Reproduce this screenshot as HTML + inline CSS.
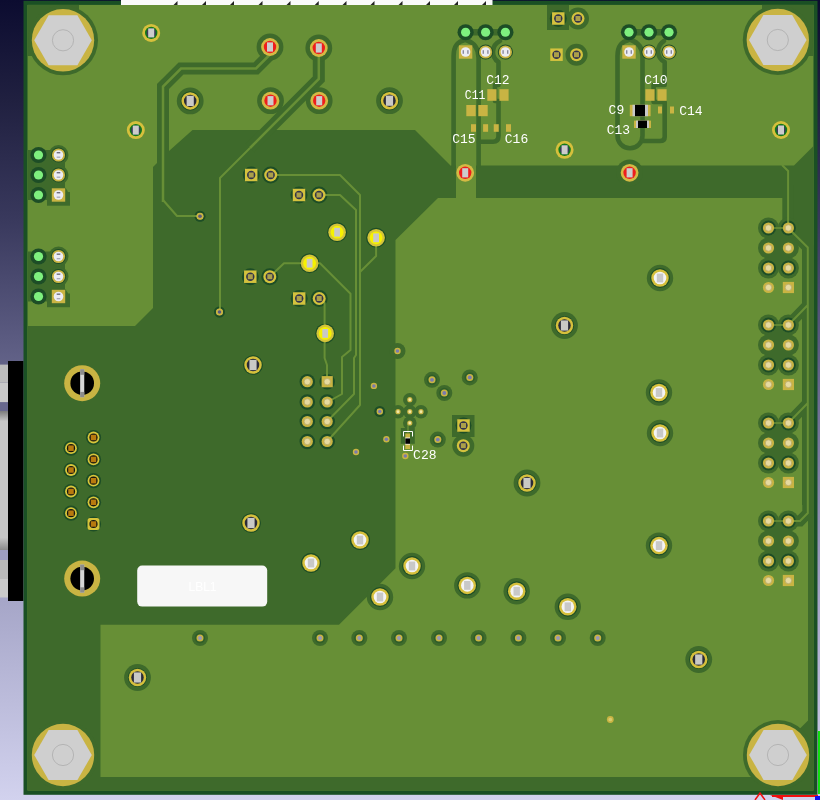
<!DOCTYPE html><html><head><meta charset="utf-8"><style>html,body{margin:0;padding:0;background:#000;}svg{display:block;font-family:"Liberation Sans",sans-serif;will-change:transform;}</style></head><body><svg width="820" height="800" viewBox="0 0 820 800"><defs><linearGradient id="bg" x1="0" y1="0" x2="0" y2="1"><stop offset="0" stop-color="#0c0c30"/><stop offset="0.125" stop-color="#202040"/><stop offset="0.27" stop-color="#38385c"/><stop offset="0.42" stop-color="#5a5a80"/><stop offset="0.75" stop-color="#a6a6c8"/><stop offset="1" stop-color="#d2d2ee"/></linearGradient></defs><rect x="0" y="0" width="820" height="800" fill="url(#bg)"/><defs><linearGradient id="g1" x1="0" y1="0" x2="0" y2="1"><stop offset="0" stop-color="#7c7c7c"/><stop offset="1" stop-color="#c4c4c4"/></linearGradient><linearGradient id="g2" x1="0" y1="0" x2="0" y2="1"><stop offset="0" stop-color="#c4c4c4"/><stop offset="1" stop-color="#8a8a8a"/></linearGradient></defs><rect x="0" y="364.6" width="8" height="18" fill="#bcbcbc"/><rect x="0" y="382.6" width="8" height="19.7" fill="#c9c9c9"/><rect x="0" y="402.3" width="8" height="8.7" fill="#68688e"/><rect x="0" y="411" width="8" height="10" fill="url(#g1)"/><rect x="0" y="421" width="8" height="117" fill="#c6c6c6"/><rect x="0" y="538" width="8" height="12" fill="url(#g2)"/><rect x="0" y="550" width="8" height="10" fill="#9e9ec0"/><rect x="0" y="560" width="8" height="19" fill="#bababa"/><rect x="0" y="579" width="8" height="18.5" fill="#cacaca"/><rect x="8" y="361" width="15.5" height="240" fill="#000"/><rect x="23.5" y="0.8" width="794" height="794" fill="#1a5024"/><rect x="27.5" y="4.9" width="786" height="785.6" fill="#678f36"/><polygon fill="#3e6a2b" points="192.5,130 415,130 450,165 450,165.6 794,165.6 813.5,146 813.5,790.5 27.5,790.5 27.5,326 135,326 153,308 153,167 169,151"/><polygon fill="#678f36" points="476,198 782.5,198 782.5,240 802,240 802,505 808,505 808,720.6 790,738.6 760,777 100.5,777 100.5,624.7 339,624.7 395.5,568.2 395.5,240 438,198 456,198 456,150 476,150"/><rect x="27.5" y="4.9" width="51.5" height="51.1" fill="#3e6a2b"/><path d="M788.1,185 L788.1,228 L807.8,247.5 L807.8,513 L800,521 L788.4,521 M807.8,305 L788.4,325 M807.8,403 L788.4,423" fill="none" stroke="#3e6a2b" stroke-width="11"/><path d="M272.5,52 L256,68.5 L181,68.5 L163,86.5 L163,220" fill="none" stroke="#3e6a2b" stroke-width="12"/><path d="M318.8,48 L318.8,79 L250,148" fill="none" stroke="#3e6a2b" stroke-width="12" stroke-linejoin="miter"/><path d="M465,40 Q453.6,42 453.6,56 L453.6,166" fill="none" stroke="#3e6a2b" stroke-width="4.6" stroke-linecap="round" stroke-linejoin="round"/><path d="M466,40 Q478.6,44 478.6,58 L478.6,166" fill="none" stroke="#3e6a2b" stroke-width="4.6" stroke-linecap="round" stroke-linejoin="round"/><path d="M500,41 A12,12 0 0 0 498.5,62 L498.5,85 L495,85 L495,101 L498.5,101 L498.5,136 Q498.5,141.7 493,141.7 L478.6,141.7" fill="none" stroke="#3e6a2b" stroke-width="4.6" stroke-linecap="round" stroke-linejoin="round"/><path d="M629,40 Q617.5,42 617.5,56 L617.5,135.7 A12.5,12.5 0 0 0 642.5,135.7 L642.5,56 Q642.5,44 631,40" fill="none" stroke="#3e6a2b" stroke-width="4.6" stroke-linecap="round" stroke-linejoin="round"/><path d="M664,41 A12,12 0 0 0 664.7,62 L664.7,85 L653.6,85 L653.6,102 L664.7,102 L664.7,137 Q664.7,141 660,141 L642.5,141" fill="none" stroke="#3e6a2b" stroke-width="4.6" stroke-linecap="round" stroke-linejoin="round"/><circle cx="190.2" cy="100.9" r="13.4" fill="#3e6a2b"/><circle cx="190.2" cy="100.9" r="9.6" fill="#1d4d26"/><circle cx="389.5" cy="100.7" r="13.4" fill="#3e6a2b"/><circle cx="389.5" cy="100.7" r="9.6" fill="#1d4d26"/><circle cx="564.5" cy="325.5" r="13.4" fill="#3e6a2b"/><circle cx="564.5" cy="325.5" r="9.6" fill="#1d4d26"/><circle cx="527" cy="483" r="13.4" fill="#3e6a2b"/><circle cx="527" cy="483" r="9.6" fill="#1d4d26"/><circle cx="698.75" cy="659.5" r="13.4" fill="#3e6a2b"/><circle cx="698.75" cy="659.5" r="9.6" fill="#1d4d26"/><circle cx="137.5" cy="677.5" r="13.4" fill="#3e6a2b"/><circle cx="137.5" cy="677.5" r="9.6" fill="#1d4d26"/><circle cx="253" cy="365" r="9.8" fill="#1d4d26"/><circle cx="253" cy="365" r="9.6" fill="#1d4d26"/><circle cx="251" cy="523" r="9.8" fill="#1d4d26"/><circle cx="251" cy="523" r="9.6" fill="#1d4d26"/><circle cx="270" cy="47" r="13.4" fill="#3e6a2b"/><circle cx="318.8" cy="48" r="13.4" fill="#3e6a2b"/><circle cx="270.5" cy="100.7" r="13.4" fill="#3e6a2b"/><circle cx="319.2" cy="100.7" r="13.4" fill="#3e6a2b"/><circle cx="629.6" cy="172.8" r="13.4" fill="#3e6a2b"/><circle cx="660" cy="278" r="13.2" fill="#3e6a2b"/><circle cx="660" cy="278" r="9.9" fill="#1d4d26"/><circle cx="659" cy="392.5" r="13.2" fill="#3e6a2b"/><circle cx="659" cy="392.5" r="9.9" fill="#1d4d26"/><circle cx="660" cy="433" r="13.2" fill="#3e6a2b"/><circle cx="660" cy="433" r="9.9" fill="#1d4d26"/><circle cx="659" cy="545.6" r="13.2" fill="#3e6a2b"/><circle cx="659" cy="545.6" r="9.9" fill="#1d4d26"/><circle cx="412" cy="566" r="13.2" fill="#3e6a2b"/><circle cx="412" cy="566" r="9.9" fill="#1d4d26"/><circle cx="467.3" cy="585.4" r="13.2" fill="#3e6a2b"/><circle cx="467.3" cy="585.4" r="9.9" fill="#1d4d26"/><circle cx="516.7" cy="591.2" r="13.2" fill="#3e6a2b"/><circle cx="516.7" cy="591.2" r="9.9" fill="#1d4d26"/><circle cx="567.8" cy="606.8" r="13.2" fill="#3e6a2b"/><circle cx="567.8" cy="606.8" r="9.9" fill="#1d4d26"/><circle cx="380" cy="597" r="13.2" fill="#3e6a2b"/><circle cx="380" cy="597" r="9.9" fill="#1d4d26"/><circle cx="311" cy="563" r="10" fill="#1d4d26"/><circle cx="311" cy="563" r="9.9" fill="#1d4d26"/><circle cx="360" cy="540" r="10" fill="#1d4d26"/><circle cx="360" cy="540" r="9.9" fill="#1d4d26"/><circle cx="337.1" cy="232.2" r="10" fill="#1d4d26"/><circle cx="376.1" cy="237.8" r="10" fill="#1d4d26"/><circle cx="309.6" cy="263.2" r="10" fill="#1d4d26"/><circle cx="325.2" cy="333.4" r="10" fill="#1d4d26"/><circle cx="200" cy="638" r="8" fill="#3e6a2b"/><circle cx="200" cy="638" r="5.2" fill="#2f5e28"/><circle cx="320" cy="638" r="8" fill="#3e6a2b"/><circle cx="320" cy="638" r="5.2" fill="#2f5e28"/><circle cx="359.3" cy="638" r="8" fill="#3e6a2b"/><circle cx="359.3" cy="638" r="5.2" fill="#2f5e28"/><circle cx="399" cy="638" r="8" fill="#3e6a2b"/><circle cx="399" cy="638" r="5.2" fill="#2f5e28"/><circle cx="439" cy="638" r="8" fill="#3e6a2b"/><circle cx="439" cy="638" r="5.2" fill="#2f5e28"/><circle cx="478.6" cy="638" r="8" fill="#3e6a2b"/><circle cx="478.6" cy="638" r="5.2" fill="#2f5e28"/><circle cx="518.4" cy="638" r="8" fill="#3e6a2b"/><circle cx="518.4" cy="638" r="5.2" fill="#2f5e28"/><circle cx="558" cy="638" r="8" fill="#3e6a2b"/><circle cx="558" cy="638" r="5.2" fill="#2f5e28"/><circle cx="597.7" cy="638" r="8" fill="#3e6a2b"/><circle cx="597.7" cy="638" r="5.2" fill="#2f5e28"/><circle cx="200" cy="216.3" r="5.5" fill="#3e6a2b"/><circle cx="200" cy="216.3" r="5.2" fill="#2f5e28"/><circle cx="200" cy="216.3" r="5.5" fill="#1d4d26"/><circle cx="219.5" cy="312" r="5.5" fill="#3e6a2b"/><circle cx="219.5" cy="312" r="5.2" fill="#2f5e28"/><circle cx="219.5" cy="312" r="5.5" fill="#1d4d26"/><circle cx="379.8" cy="411.5" r="5.5" fill="#1d4d26"/><circle cx="397.5" cy="351" r="8" fill="#3e6a2b"/><circle cx="409.8" cy="399.7" r="6.8" fill="#3e6a2b"/><circle cx="398" cy="411.7" r="6.8" fill="#3e6a2b"/><circle cx="409.8" cy="411.7" r="6.8" fill="#3e6a2b"/><circle cx="421" cy="411.7" r="6.8" fill="#3e6a2b"/><circle cx="409.8" cy="423" r="6.8" fill="#3e6a2b"/><circle cx="432" cy="379.8" r="8" fill="#3e6a2b"/><circle cx="432" cy="379.8" r="5.2" fill="#2f5e28"/><circle cx="444.3" cy="393" r="8" fill="#3e6a2b"/><circle cx="444.3" cy="393" r="5.2" fill="#2f5e28"/><circle cx="469.8" cy="377.4" r="8" fill="#3e6a2b"/><circle cx="469.8" cy="377.4" r="5.2" fill="#2f5e28"/><circle cx="437.8" cy="439.6" r="8" fill="#3e6a2b"/><circle cx="437.8" cy="439.6" r="5.2" fill="#2f5e28"/><circle cx="251.2" cy="175" r="8.5" fill="#1d4d26"/><circle cx="270.7" cy="175" r="8.5" fill="#1d4d26"/><circle cx="299" cy="195" r="8.5" fill="#1d4d26"/><circle cx="319" cy="195" r="8.5" fill="#1d4d26"/><circle cx="250.3" cy="276.7" r="8.5" fill="#1d4d26"/><circle cx="269.8" cy="276.7" r="8.5" fill="#1d4d26"/><circle cx="299.2" cy="298.5" r="8.5" fill="#1d4d26"/><circle cx="319.2" cy="298.5" r="8.5" fill="#1d4d26"/><rect x="547" y="4.9" width="22" height="25.1" fill="#3e6a2b"/><circle cx="578" cy="18.5" r="11" fill="#3e6a2b"/><circle cx="558.3" cy="18.5" r="8.5" fill="#1d4d26"/><circle cx="576.5" cy="54.7" r="11" fill="#3e6a2b"/><rect x="452" y="415" width="22.5" height="22" fill="#3e6a2b"/><circle cx="463.3" cy="445.7" r="11" fill="#3e6a2b"/><circle cx="463.5" cy="425.5" r="8" fill="#1d4d26"/><circle cx="307.3" cy="381.7" r="7.8" fill="#1d4d26"/><circle cx="327.2" cy="381.7" r="7.8" fill="#1d4d26"/><circle cx="307.3" cy="402" r="7.8" fill="#1d4d26"/><circle cx="327.2" cy="402" r="7.8" fill="#1d4d26"/><circle cx="307.3" cy="421.5" r="7.8" fill="#1d4d26"/><circle cx="327.2" cy="421.5" r="7.8" fill="#1d4d26"/><circle cx="307.3" cy="441.5" r="7.8" fill="#1d4d26"/><circle cx="327.2" cy="441.5" r="7.8" fill="#1d4d26"/><circle cx="768.5" cy="228" r="10.5" fill="#3e6a2b"/><circle cx="788.4" cy="228" r="10.5" fill="#3e6a2b"/><circle cx="768.5" cy="248" r="10.5" fill="#3e6a2b"/><circle cx="788.4" cy="248" r="10.5" fill="#3e6a2b"/><circle cx="768.5" cy="268" r="10.5" fill="#3e6a2b"/><circle cx="788.4" cy="268" r="10.5" fill="#3e6a2b"/><rect x="768.5" y="228" width="20" height="40" fill="#3e6a2b"/><circle cx="768.5" cy="325" r="10.5" fill="#3e6a2b"/><circle cx="788.4" cy="325" r="10.5" fill="#3e6a2b"/><circle cx="768.5" cy="345" r="10.5" fill="#3e6a2b"/><circle cx="788.4" cy="345" r="10.5" fill="#3e6a2b"/><circle cx="768.5" cy="365" r="10.5" fill="#3e6a2b"/><circle cx="788.4" cy="365" r="10.5" fill="#3e6a2b"/><rect x="768.5" y="325" width="20" height="40" fill="#3e6a2b"/><circle cx="768.5" cy="423" r="10.5" fill="#3e6a2b"/><circle cx="788.4" cy="423" r="10.5" fill="#3e6a2b"/><circle cx="768.5" cy="443" r="10.5" fill="#3e6a2b"/><circle cx="788.4" cy="443" r="10.5" fill="#3e6a2b"/><circle cx="768.5" cy="463" r="10.5" fill="#3e6a2b"/><circle cx="788.4" cy="463" r="10.5" fill="#3e6a2b"/><rect x="768.5" y="423" width="20" height="40" fill="#3e6a2b"/><circle cx="768.5" cy="521" r="10.5" fill="#3e6a2b"/><circle cx="788.4" cy="521" r="10.5" fill="#3e6a2b"/><circle cx="768.5" cy="541" r="10.5" fill="#3e6a2b"/><circle cx="788.4" cy="541" r="10.5" fill="#3e6a2b"/><circle cx="768.5" cy="561" r="10.5" fill="#3e6a2b"/><circle cx="788.4" cy="561" r="10.5" fill="#3e6a2b"/><rect x="768.5" y="521" width="20" height="40" fill="#3e6a2b"/><circle cx="768.5" cy="228" r="7.5" fill="#1d4d26"/><circle cx="788.4" cy="228" r="7.5" fill="#1d4d26"/><circle cx="768.5" cy="268" r="7.5" fill="#1d4d26"/><circle cx="788.4" cy="268" r="7.5" fill="#1d4d26"/><circle cx="768.5" cy="325" r="7.5" fill="#1d4d26"/><circle cx="788.4" cy="325" r="7.5" fill="#1d4d26"/><circle cx="768.5" cy="365" r="7.5" fill="#1d4d26"/><circle cx="788.4" cy="365" r="7.5" fill="#1d4d26"/><circle cx="768.5" cy="423" r="7.5" fill="#1d4d26"/><circle cx="788.4" cy="423" r="7.5" fill="#1d4d26"/><circle cx="768.5" cy="463" r="7.5" fill="#1d4d26"/><circle cx="788.4" cy="463" r="7.5" fill="#1d4d26"/><circle cx="768.5" cy="521" r="7.5" fill="#1d4d26"/><circle cx="788.4" cy="521" r="7.5" fill="#1d4d26"/><circle cx="768.5" cy="561" r="7.5" fill="#1d4d26"/><circle cx="788.4" cy="561" r="7.5" fill="#1d4d26"/><circle cx="71" cy="448.2" r="7.6" fill="#1d4d26"/><circle cx="71" cy="470" r="7.6" fill="#1d4d26"/><circle cx="71" cy="491.5" r="7.6" fill="#1d4d26"/><circle cx="71" cy="513.2" r="7.6" fill="#1d4d26"/><circle cx="93.5" cy="437.5" r="7.6" fill="#1d4d26"/><circle cx="93.5" cy="459.4" r="7.6" fill="#1d4d26"/><circle cx="93.5" cy="480.7" r="7.6" fill="#1d4d26"/><circle cx="93.5" cy="502.3" r="7.6" fill="#1d4d26"/><circle cx="93.5" cy="524" r="7.6" fill="#1d4d26"/><rect x="28" y="150" width="37" height="50" fill="#3e6a2b"/><circle cx="58.5" cy="155" r="10" fill="#3e6a2b"/><circle cx="58.5" cy="175" r="10" fill="#3e6a2b"/><circle cx="58.5" cy="195" r="10" fill="#3e6a2b"/><rect x="47" y="192" width="23" height="13.7" fill="#3e6a2b"/><circle cx="38.5" cy="155" r="8.1" fill="#1d4d26"/><circle cx="58.5" cy="155" r="7.6" fill="#1d4d26"/><circle cx="38.5" cy="175" r="8.1" fill="#1d4d26"/><circle cx="58.5" cy="175" r="7.6" fill="#1d4d26"/><circle cx="38.5" cy="195" r="8.1" fill="#1d4d26"/><rect x="28" y="251.5" width="37" height="50.0" fill="#3e6a2b"/><circle cx="58.5" cy="256.5" r="10" fill="#3e6a2b"/><circle cx="58.5" cy="276.5" r="10" fill="#3e6a2b"/><circle cx="58.5" cy="296.5" r="10" fill="#3e6a2b"/><rect x="47" y="293.5" width="23" height="13.7" fill="#3e6a2b"/><circle cx="38.5" cy="256.5" r="8.1" fill="#1d4d26"/><circle cx="58.5" cy="256.5" r="7.6" fill="#1d4d26"/><circle cx="38.5" cy="276.5" r="8.1" fill="#1d4d26"/><circle cx="58.5" cy="276.5" r="7.6" fill="#1d4d26"/><circle cx="38.5" cy="296.5" r="8.1" fill="#1d4d26"/><rect x="465.6" y="29" width="39.799999999999955" height="6.5" fill="#3e6a2b"/><circle cx="465.6" cy="32.25" r="8.1" fill="#1d4d26"/><circle cx="485.6" cy="32.25" r="8.1" fill="#1d4d26"/><circle cx="505.4" cy="32.25" r="8.1" fill="#1d4d26"/><circle cx="485.6" cy="52" r="7.6" fill="#1d4d26"/><circle cx="505.4" cy="52" r="7.6" fill="#1d4d26"/><rect x="629" y="29" width="40" height="6.5" fill="#3e6a2b"/><circle cx="629" cy="32.25" r="8.1" fill="#1d4d26"/><circle cx="649" cy="32.25" r="8.1" fill="#1d4d26"/><circle cx="669" cy="32.25" r="8.1" fill="#1d4d26"/><circle cx="649" cy="52" r="7.6" fill="#1d4d26"/><circle cx="669" cy="52" r="7.6" fill="#1d4d26"/><rect x="762" y="4.9" width="51.5" height="51.1" fill="#3e6a2b"/><circle cx="63" cy="40.3" r="35" fill="#3e6a2b"/><circle cx="777.8" cy="40" r="35" fill="#3e6a2b"/><circle cx="63" cy="755" r="35" fill="#3e6a2b"/><circle cx="778" cy="755" r="35" fill="#3e6a2b"/><rect x="400.8" y="428" width="14" height="15.8" fill="#3e6a2b"/><path d="M782,165 L788.1,171 L788.1,228 L807.8,247.5 L807.8,513 L800,521 L788.4,521 M807.8,305 L788.4,325 M807.8,403 L788.4,423" fill="none" stroke="#678f36" stroke-width="2"/><path d="M272.5,52 L256,68.5 L181,68.5 L163,86.5 L163,202" fill="none" stroke="#678f36" stroke-width="2.5"/><path d="M318.8,48 L318.8,79 L250,148" fill="none" stroke="#678f36" stroke-width="2.5"/><path d="M163,200 L177,216 L200,216" fill="none" stroke="#678f36" stroke-width="2.0" stroke-linejoin="round"/><path d="M250,148 L220,178 L220,311" fill="none" stroke="#678f36" stroke-width="2.0" stroke-linejoin="round"/><path d="M270.7,175 L340,175 L360,195 L360,405 L327,441.5" fill="none" stroke="#678f36" stroke-width="2.0" stroke-linejoin="round"/><path d="M319,195 L340,195 L356,210 L356,355 L354,358 L354,394 L327,421.5" fill="none" stroke="#678f36" stroke-width="2.0" stroke-linejoin="round"/><path d="M376.1,237.8 L376.1,256 L360,272" fill="none" stroke="#678f36" stroke-width="2.0" stroke-linejoin="round"/><path d="M269.8,276.7 L284,263.2 L320,263.2 L350.5,293.7 L350.5,350 L342,357 L342,394 L327.6,402" fill="none" stroke="#678f36" stroke-width="2.0" stroke-linejoin="round"/><path d="M319.2,298.5 L324.6,303 L324.6,358 L327,365 L327,382" fill="none" stroke="#678f36" stroke-width="2.0" stroke-linejoin="round"/><path d="M768.5,228 L788.4,228" stroke="#678f36" stroke-width="1.6"/><path d="M768.5,325 L788.4,325" stroke="#678f36" stroke-width="1.6"/><path d="M768.5,423 L788.4,423" stroke="#678f36" stroke-width="1.6"/><path d="M768.5,521 L788.4,521" stroke="#678f36" stroke-width="1.6"/><path d="M408,433 L408,424" fill="none" stroke="#678f36" stroke-width="1.4" stroke-linejoin="round"/><circle cx="190.2" cy="100.9" r="8.75" fill="#d6c03c"/><circle cx="190.2" cy="100.9" r="6.25" fill="#2a2a38"/><rect x="186.6" y="95.80000000000001" width="7.2" height="10.2" fill="#c9c9c6"/><circle cx="389.5" cy="100.7" r="8.75" fill="#d6c03c"/><circle cx="389.5" cy="100.7" r="6.25" fill="#2a2a38"/><rect x="385.9" y="95.60000000000001" width="7.2" height="10.2" fill="#c9c9c6"/><circle cx="564.5" cy="325.5" r="8.75" fill="#d6c03c"/><circle cx="564.5" cy="325.5" r="6.25" fill="#2a2a38"/><rect x="560.9" y="320.4" width="7.2" height="10.2" fill="#c9c9c6"/><circle cx="527" cy="483" r="8.75" fill="#d6c03c"/><circle cx="527" cy="483" r="6.25" fill="#2a2a38"/><rect x="523.4" y="477.9" width="7.2" height="10.2" fill="#c9c9c6"/><circle cx="698.75" cy="659.5" r="8.75" fill="#d6c03c"/><circle cx="698.75" cy="659.5" r="6.25" fill="#2a2a38"/><rect x="695.15" y="654.4" width="7.2" height="10.2" fill="#c9c9c6"/><circle cx="137.5" cy="677.5" r="8.75" fill="#d6c03c"/><circle cx="137.5" cy="677.5" r="6.25" fill="#2a2a38"/><rect x="133.9" y="672.4" width="7.2" height="10.2" fill="#c9c9c6"/><circle cx="253" cy="365" r="8.75" fill="#d6c03c"/><circle cx="253" cy="365" r="6.25" fill="#2a2a38"/><rect x="249.4" y="359.9" width="7.2" height="10.2" fill="#c9c9c6"/><circle cx="251" cy="523" r="8.75" fill="#d6c03c"/><circle cx="251" cy="523" r="6.25" fill="#2a2a38"/><rect x="247.4" y="517.9" width="7.2" height="10.2" fill="#c9c9c6"/><circle cx="270" cy="47" r="8.9" fill="#d4ba44"/><circle cx="270" cy="47" r="6.2" fill="#ee1d1d"/><rect x="267" y="42.4" width="6" height="9.2" fill="#cccccc"/><circle cx="318.8" cy="48" r="8.9" fill="#d4ba44"/><circle cx="318.8" cy="48" r="6.2" fill="#ee1d1d"/><rect x="315.8" y="43.4" width="6" height="9.2" fill="#cccccc"/><circle cx="270.5" cy="100.7" r="8.9" fill="#d4ba44"/><circle cx="270.5" cy="100.7" r="6.2" fill="#ee1d1d"/><rect x="267.5" y="96.10000000000001" width="6" height="9.2" fill="#cccccc"/><circle cx="319.2" cy="100.7" r="8.9" fill="#d4ba44"/><circle cx="319.2" cy="100.7" r="6.2" fill="#ee1d1d"/><rect x="316.2" y="96.10000000000001" width="6" height="9.2" fill="#cccccc"/><circle cx="629.6" cy="172.8" r="8.9" fill="#d4ba44"/><circle cx="629.6" cy="172.8" r="6.2" fill="#ee1d1d"/><rect x="626.6" y="168.20000000000002" width="6" height="9.2" fill="#cccccc"/><circle cx="465.2" cy="172.8" r="8.9" fill="#d4ba44"/><circle cx="465.2" cy="172.8" r="6.2" fill="#ee1d1d"/><rect x="462.2" y="168.20000000000002" width="6" height="9.2" fill="#cccccc"/><circle cx="660" cy="278" r="8.75" fill="#d6c03c"/><circle cx="660" cy="278" r="6.3" fill="#f4f4f4"/><rect x="656.8" y="273.6" width="6.4" height="8.8" fill="#c8c8c8"/><circle cx="659" cy="392.5" r="8.75" fill="#d6c03c"/><circle cx="659" cy="392.5" r="6.3" fill="#f4f4f4"/><rect x="655.8" y="388.1" width="6.4" height="8.8" fill="#c8c8c8"/><circle cx="660" cy="433" r="8.75" fill="#d6c03c"/><circle cx="660" cy="433" r="6.3" fill="#f4f4f4"/><rect x="656.8" y="428.6" width="6.4" height="8.8" fill="#c8c8c8"/><circle cx="659" cy="545.6" r="8.75" fill="#d6c03c"/><circle cx="659" cy="545.6" r="6.3" fill="#f4f4f4"/><rect x="655.8" y="541.2" width="6.4" height="8.8" fill="#c8c8c8"/><circle cx="412" cy="566" r="8.75" fill="#d6c03c"/><circle cx="412" cy="566" r="6.3" fill="#f4f4f4"/><rect x="408.8" y="561.6" width="6.4" height="8.8" fill="#c8c8c8"/><circle cx="467.3" cy="585.4" r="8.75" fill="#d6c03c"/><circle cx="467.3" cy="585.4" r="6.3" fill="#f4f4f4"/><rect x="464.1" y="581.0" width="6.4" height="8.8" fill="#c8c8c8"/><circle cx="516.7" cy="591.2" r="8.75" fill="#d6c03c"/><circle cx="516.7" cy="591.2" r="6.3" fill="#f4f4f4"/><rect x="513.5" y="586.8000000000001" width="6.4" height="8.8" fill="#c8c8c8"/><circle cx="567.8" cy="606.8" r="8.75" fill="#d6c03c"/><circle cx="567.8" cy="606.8" r="6.3" fill="#f4f4f4"/><rect x="564.5999999999999" y="602.4" width="6.4" height="8.8" fill="#c8c8c8"/><circle cx="380" cy="597" r="8.75" fill="#d6c03c"/><circle cx="380" cy="597" r="6.3" fill="#f4f4f4"/><rect x="376.8" y="592.6" width="6.4" height="8.8" fill="#c8c8c8"/><circle cx="311" cy="563" r="8.75" fill="#d6c03c"/><circle cx="311" cy="563" r="6.3" fill="#f4f4f4"/><rect x="307.8" y="558.6" width="6.4" height="8.8" fill="#c8c8c8"/><circle cx="360" cy="540" r="8.75" fill="#d6c03c"/><circle cx="360" cy="540" r="6.3" fill="#f4f4f4"/><rect x="356.8" y="535.6" width="6.4" height="8.8" fill="#c8c8c8"/><circle cx="151.2" cy="32.9" r="9" fill="#d6c03c"/><circle cx="151.2" cy="32.9" r="6.2" fill="#127a1a"/><circle cx="151.2" cy="32.9" r="4.7" fill="#3a3a58"/><rect x="148.2" y="28.4" width="6" height="9" fill="#cccccc"/><circle cx="135.8" cy="130.1" r="9" fill="#d6c03c"/><circle cx="135.8" cy="130.1" r="6.2" fill="#127a1a"/><circle cx="135.8" cy="130.1" r="4.7" fill="#3a3a58"/><rect x="132.8" y="125.6" width="6" height="9" fill="#cccccc"/><circle cx="564.6" cy="149.8" r="9" fill="#d6c03c"/><circle cx="564.6" cy="149.8" r="6.2" fill="#127a1a"/><circle cx="564.6" cy="149.8" r="4.7" fill="#3a3a58"/><rect x="561.6" y="145.3" width="6" height="9" fill="#cccccc"/><circle cx="781" cy="130" r="9" fill="#d6c03c"/><circle cx="781" cy="130" r="6.2" fill="#127a1a"/><circle cx="781" cy="130" r="4.7" fill="#3a3a58"/><rect x="778" y="125.5" width="6" height="9" fill="#cccccc"/><circle cx="337.1" cy="232.2" r="8.8" fill="#d4c43a"/><circle cx="337.1" cy="232.2" r="6.4" fill="#f6f200"/><rect x="334.20000000000005" y="227.79999999999998" width="5.8" height="8.8" fill="#c8c8c8"/><circle cx="376.1" cy="237.8" r="8.8" fill="#d4c43a"/><circle cx="376.1" cy="237.8" r="6.4" fill="#f6f200"/><rect x="373.20000000000005" y="233.4" width="5.8" height="8.8" fill="#c8c8c8"/><circle cx="309.6" cy="263.2" r="8.8" fill="#d4c43a"/><circle cx="309.6" cy="263.2" r="6.4" fill="#f6f200"/><rect x="306.70000000000005" y="258.8" width="5.8" height="8.8" fill="#c8c8c8"/><circle cx="325.2" cy="333.4" r="8.8" fill="#d4c43a"/><circle cx="325.2" cy="333.4" r="6.4" fill="#f6f200"/><rect x="322.3" y="329.0" width="5.8" height="8.8" fill="#c8c8c8"/><circle cx="200" cy="638" r="3.5" fill="#c9b443"/><circle cx="200" cy="638" r="1.9250000000000003" fill="#9898b8"/><circle cx="320" cy="638" r="3.5" fill="#c9b443"/><circle cx="320" cy="638" r="1.9250000000000003" fill="#9898b8"/><circle cx="359.3" cy="638" r="3.5" fill="#c9b443"/><circle cx="359.3" cy="638" r="1.9250000000000003" fill="#9898b8"/><circle cx="399" cy="638" r="3.5" fill="#c9b443"/><circle cx="399" cy="638" r="1.9250000000000003" fill="#9898b8"/><circle cx="439" cy="638" r="3.5" fill="#c9b443"/><circle cx="439" cy="638" r="1.9250000000000003" fill="#9898b8"/><circle cx="478.6" cy="638" r="3.5" fill="#c9b443"/><circle cx="478.6" cy="638" r="1.9250000000000003" fill="#9898b8"/><circle cx="518.4" cy="638" r="3.5" fill="#c9b443"/><circle cx="518.4" cy="638" r="1.9250000000000003" fill="#9898b8"/><circle cx="558" cy="638" r="3.5" fill="#c9b443"/><circle cx="558" cy="638" r="1.9250000000000003" fill="#9898b8"/><circle cx="597.7" cy="638" r="3.5" fill="#c9b443"/><circle cx="597.7" cy="638" r="1.9250000000000003" fill="#9898b8"/><circle cx="200" cy="216.3" r="3.5" fill="#c9b443"/><circle cx="200" cy="216.3" r="1.9250000000000003" fill="#5a5a80"/><circle cx="200" cy="216.3" r="3.3" fill="#c9b443"/><circle cx="200" cy="216.3" r="1.815" fill="#5a5a80"/><circle cx="219.5" cy="312" r="3.5" fill="#c9b443"/><circle cx="219.5" cy="312" r="1.9250000000000003" fill="#5a5a80"/><circle cx="219.5" cy="312" r="3.3" fill="#c9b443"/><circle cx="219.5" cy="312" r="1.815" fill="#5a5a80"/><circle cx="373.9" cy="385.9" r="3.2" fill="#c9b443"/><circle cx="373.9" cy="385.9" r="1.7600000000000002" fill="#7a7ab0"/><circle cx="386.4" cy="439.2" r="3.2" fill="#c9b443"/><circle cx="386.4" cy="439.2" r="1.7600000000000002" fill="#7a7ab0"/><circle cx="356" cy="452" r="3.2" fill="#c9b443"/><circle cx="356" cy="452" r="1.7600000000000002" fill="#7a7ab0"/><circle cx="379.8" cy="411.5" r="3.2" fill="#c9b443"/><circle cx="379.8" cy="411.5" r="1.7600000000000002" fill="#7a7ab0"/><circle cx="397.5" cy="351" r="3.2" fill="#c9b443"/><circle cx="397.5" cy="351" r="1.7600000000000002" fill="#7a7ab0"/><circle cx="409.8" cy="399.7" r="2.6" fill="#c9b443"/><circle cx="409.8" cy="399.7" r="1.4300000000000002" fill="#f0e8a8"/><circle cx="398" cy="411.7" r="2.6" fill="#c9b443"/><circle cx="398" cy="411.7" r="1.4300000000000002" fill="#f0e8a8"/><circle cx="409.8" cy="411.7" r="2.6" fill="#c9b443"/><circle cx="409.8" cy="411.7" r="1.4300000000000002" fill="#f0e8a8"/><circle cx="421" cy="411.7" r="2.6" fill="#c9b443"/><circle cx="421" cy="411.7" r="1.4300000000000002" fill="#f0e8a8"/><circle cx="409.8" cy="423" r="2.6" fill="#c9b443"/><circle cx="409.8" cy="423" r="1.4300000000000002" fill="#f0e8a8"/><circle cx="432" cy="379.8" r="3.5" fill="#c9b443"/><circle cx="432" cy="379.8" r="1.9250000000000003" fill="#7a7ab0"/><circle cx="444.3" cy="393" r="3.5" fill="#c9b443"/><circle cx="444.3" cy="393" r="1.9250000000000003" fill="#7a7ab0"/><circle cx="469.8" cy="377.4" r="3.5" fill="#c9b443"/><circle cx="469.8" cy="377.4" r="1.9250000000000003" fill="#7a7ab0"/><circle cx="437.8" cy="439.6" r="3.5" fill="#c9b443"/><circle cx="437.8" cy="439.6" r="1.9250000000000003" fill="#7a7ab0"/><circle cx="405.3" cy="456" r="3.2" fill="#c9b443"/><circle cx="405.3" cy="456" r="1.7600000000000002" fill="#7a7ab0"/><circle cx="610.3" cy="719.5" r="3.4" fill="#c9b443"/><circle cx="610.3" cy="719.5" r="1.87" fill="#d9cc70"/><rect x="244.95" y="168.75" width="12.5" height="12.5" fill="#d4c23e"/><circle cx="251.2" cy="175" r="4.2" fill="#34344a"/><rect x="248.7" y="172.5" width="5" height="5" fill="#ab9f4a"/><circle cx="270.7" cy="175" r="6.5" fill="#d4c23e"/><circle cx="270.7" cy="175" r="4.2" fill="#34344a"/><rect x="268.2" y="172.5" width="5" height="5" fill="#ab9f4a"/><rect x="292.75" y="188.75" width="12.5" height="12.5" fill="#d4c23e"/><circle cx="299" cy="195" r="4.2" fill="#34344a"/><rect x="296.5" y="192.5" width="5" height="5" fill="#ab9f4a"/><circle cx="319" cy="195" r="6.5" fill="#d4c23e"/><circle cx="319" cy="195" r="4.2" fill="#34344a"/><rect x="316.5" y="192.5" width="5" height="5" fill="#ab9f4a"/><rect x="244.05" y="270.45" width="12.5" height="12.5" fill="#d4c23e"/><circle cx="250.3" cy="276.7" r="4.2" fill="#34344a"/><rect x="247.8" y="274.2" width="5" height="5" fill="#ab9f4a"/><circle cx="269.8" cy="276.7" r="6.5" fill="#d4c23e"/><circle cx="269.8" cy="276.7" r="4.2" fill="#34344a"/><rect x="267.3" y="274.2" width="5" height="5" fill="#ab9f4a"/><rect x="292.95" y="292.25" width="12.5" height="12.5" fill="#d4c23e"/><circle cx="299.2" cy="298.5" r="4.2" fill="#34344a"/><rect x="296.7" y="296.0" width="5" height="5" fill="#ab9f4a"/><circle cx="319.2" cy="298.5" r="6.5" fill="#d4c23e"/><circle cx="319.2" cy="298.5" r="4.2" fill="#34344a"/><rect x="316.7" y="296.0" width="5" height="5" fill="#ab9f4a"/><rect x="552.05" y="12.25" width="12.5" height="12.5" fill="#d4c23e"/><circle cx="558.3" cy="18.5" r="4.2" fill="#34344a"/><rect x="555.8" y="16.0" width="5" height="5" fill="#ab9f4a"/><circle cx="578" cy="18.5" r="6.5" fill="#d4c23e"/><circle cx="578" cy="18.5" r="4.2" fill="#34344a"/><rect x="575.5" y="16.0" width="5" height="5" fill="#ab9f4a"/><rect x="550.25" y="48.45" width="12.5" height="12.5" fill="#d4c23e"/><circle cx="556.5" cy="54.7" r="4.2" fill="#34344a"/><rect x="554.0" y="52.2" width="5" height="5" fill="#ab9f4a"/><circle cx="576.5" cy="54.7" r="6.5" fill="#d4c23e"/><circle cx="576.5" cy="54.7" r="4.2" fill="#34344a"/><rect x="574.0" y="52.2" width="5" height="5" fill="#ab9f4a"/><rect x="457.25" y="419.25" width="12.5" height="12.5" fill="#d4c23e"/><circle cx="463.5" cy="425.5" r="4.2" fill="#34344a"/><rect x="461.0" y="423.0" width="5" height="5" fill="#ab9f4a"/><circle cx="463.3" cy="445.7" r="6.5" fill="#d4c23e"/><circle cx="463.3" cy="445.7" r="4.2" fill="#34344a"/><rect x="460.8" y="443.2" width="5" height="5" fill="#ab9f4a"/><circle cx="307.3" cy="381.7" r="5.6" fill="#c9b443"/><circle cx="307.3" cy="381.7" r="3.2" fill="#e6daa0" stroke="#b4a66a" stroke-width="0.7"/><rect x="321.59999999999997" y="376.09999999999997" width="11.2" height="11.2" fill="#c9b443"/><circle cx="327.2" cy="381.7" r="3.2" fill="#e6daa0" stroke="#b4a66a" stroke-width="0.7"/><circle cx="307.3" cy="402" r="5.6" fill="#c9b443"/><circle cx="307.3" cy="402" r="3.2" fill="#e6daa0" stroke="#b4a66a" stroke-width="0.7"/><circle cx="327.2" cy="402" r="5.6" fill="#c9b443"/><circle cx="327.2" cy="402" r="3.2" fill="#e6daa0" stroke="#b4a66a" stroke-width="0.7"/><circle cx="307.3" cy="421.5" r="5.6" fill="#c9b443"/><circle cx="307.3" cy="421.5" r="3.2" fill="#e6daa0" stroke="#b4a66a" stroke-width="0.7"/><circle cx="327.2" cy="421.5" r="5.6" fill="#c9b443"/><circle cx="327.2" cy="421.5" r="3.2" fill="#e6daa0" stroke="#b4a66a" stroke-width="0.7"/><circle cx="307.3" cy="441.5" r="5.6" fill="#c9b443"/><circle cx="307.3" cy="441.5" r="3.2" fill="#e6daa0" stroke="#b4a66a" stroke-width="0.7"/><circle cx="327.2" cy="441.5" r="5.6" fill="#c9b443"/><circle cx="327.2" cy="441.5" r="3.2" fill="#e6daa0" stroke="#b4a66a" stroke-width="0.7"/><circle cx="768.5" cy="228" r="5.6" fill="#c9b443"/><circle cx="768.5" cy="228" r="3.2" fill="#e6daa0" stroke="#b4a66a" stroke-width="0.7"/><circle cx="788.4" cy="228" r="5.6" fill="#c9b443"/><circle cx="788.4" cy="228" r="3.2" fill="#e6daa0" stroke="#b4a66a" stroke-width="0.7"/><circle cx="768.5" cy="248" r="5.6" fill="#c9b443"/><circle cx="768.5" cy="248" r="3.2" fill="#e6daa0" stroke="#b4a66a" stroke-width="0.7"/><circle cx="788.4" cy="248" r="5.6" fill="#c9b443"/><circle cx="788.4" cy="248" r="3.2" fill="#e6daa0" stroke="#b4a66a" stroke-width="0.7"/><circle cx="768.5" cy="268" r="5.6" fill="#c9b443"/><circle cx="768.5" cy="268" r="3.2" fill="#e6daa0" stroke="#b4a66a" stroke-width="0.7"/><circle cx="788.4" cy="268" r="5.6" fill="#c9b443"/><circle cx="788.4" cy="268" r="3.2" fill="#e6daa0" stroke="#b4a66a" stroke-width="0.7"/><circle cx="768.5" cy="287.5" r="5.6" fill="#c9b443"/><circle cx="768.5" cy="287.5" r="3.2" fill="#e6daa0" stroke="#b4a66a" stroke-width="0.7"/><rect x="782.8" y="281.9" width="11.2" height="11.2" fill="#c9b443"/><circle cx="788.4" cy="287.5" r="3.2" fill="#e6daa0" stroke="#b4a66a" stroke-width="0.7"/><circle cx="768.5" cy="325" r="5.6" fill="#c9b443"/><circle cx="768.5" cy="325" r="3.2" fill="#e6daa0" stroke="#b4a66a" stroke-width="0.7"/><circle cx="788.4" cy="325" r="5.6" fill="#c9b443"/><circle cx="788.4" cy="325" r="3.2" fill="#e6daa0" stroke="#b4a66a" stroke-width="0.7"/><circle cx="768.5" cy="345" r="5.6" fill="#c9b443"/><circle cx="768.5" cy="345" r="3.2" fill="#e6daa0" stroke="#b4a66a" stroke-width="0.7"/><circle cx="788.4" cy="345" r="5.6" fill="#c9b443"/><circle cx="788.4" cy="345" r="3.2" fill="#e6daa0" stroke="#b4a66a" stroke-width="0.7"/><circle cx="768.5" cy="365" r="5.6" fill="#c9b443"/><circle cx="768.5" cy="365" r="3.2" fill="#e6daa0" stroke="#b4a66a" stroke-width="0.7"/><circle cx="788.4" cy="365" r="5.6" fill="#c9b443"/><circle cx="788.4" cy="365" r="3.2" fill="#e6daa0" stroke="#b4a66a" stroke-width="0.7"/><circle cx="768.5" cy="384.5" r="5.6" fill="#c9b443"/><circle cx="768.5" cy="384.5" r="3.2" fill="#e6daa0" stroke="#b4a66a" stroke-width="0.7"/><rect x="782.8" y="378.9" width="11.2" height="11.2" fill="#c9b443"/><circle cx="788.4" cy="384.5" r="3.2" fill="#e6daa0" stroke="#b4a66a" stroke-width="0.7"/><circle cx="768.5" cy="423" r="5.6" fill="#c9b443"/><circle cx="768.5" cy="423" r="3.2" fill="#e6daa0" stroke="#b4a66a" stroke-width="0.7"/><circle cx="788.4" cy="423" r="5.6" fill="#c9b443"/><circle cx="788.4" cy="423" r="3.2" fill="#e6daa0" stroke="#b4a66a" stroke-width="0.7"/><circle cx="768.5" cy="443" r="5.6" fill="#c9b443"/><circle cx="768.5" cy="443" r="3.2" fill="#e6daa0" stroke="#b4a66a" stroke-width="0.7"/><circle cx="788.4" cy="443" r="5.6" fill="#c9b443"/><circle cx="788.4" cy="443" r="3.2" fill="#e6daa0" stroke="#b4a66a" stroke-width="0.7"/><circle cx="768.5" cy="463" r="5.6" fill="#c9b443"/><circle cx="768.5" cy="463" r="3.2" fill="#e6daa0" stroke="#b4a66a" stroke-width="0.7"/><circle cx="788.4" cy="463" r="5.6" fill="#c9b443"/><circle cx="788.4" cy="463" r="3.2" fill="#e6daa0" stroke="#b4a66a" stroke-width="0.7"/><circle cx="768.5" cy="482.5" r="5.6" fill="#c9b443"/><circle cx="768.5" cy="482.5" r="3.2" fill="#e6daa0" stroke="#b4a66a" stroke-width="0.7"/><rect x="782.8" y="476.9" width="11.2" height="11.2" fill="#c9b443"/><circle cx="788.4" cy="482.5" r="3.2" fill="#e6daa0" stroke="#b4a66a" stroke-width="0.7"/><circle cx="768.5" cy="521" r="5.6" fill="#c9b443"/><circle cx="768.5" cy="521" r="3.2" fill="#e6daa0" stroke="#b4a66a" stroke-width="0.7"/><circle cx="788.4" cy="521" r="5.6" fill="#c9b443"/><circle cx="788.4" cy="521" r="3.2" fill="#e6daa0" stroke="#b4a66a" stroke-width="0.7"/><circle cx="768.5" cy="541" r="5.6" fill="#c9b443"/><circle cx="768.5" cy="541" r="3.2" fill="#e6daa0" stroke="#b4a66a" stroke-width="0.7"/><circle cx="788.4" cy="541" r="5.6" fill="#c9b443"/><circle cx="788.4" cy="541" r="3.2" fill="#e6daa0" stroke="#b4a66a" stroke-width="0.7"/><circle cx="768.5" cy="561" r="5.6" fill="#c9b443"/><circle cx="768.5" cy="561" r="3.2" fill="#e6daa0" stroke="#b4a66a" stroke-width="0.7"/><circle cx="788.4" cy="561" r="5.6" fill="#c9b443"/><circle cx="788.4" cy="561" r="3.2" fill="#e6daa0" stroke="#b4a66a" stroke-width="0.7"/><circle cx="768.5" cy="580.5" r="5.6" fill="#c9b443"/><circle cx="768.5" cy="580.5" r="3.2" fill="#e6daa0" stroke="#b4a66a" stroke-width="0.7"/><rect x="782.8" y="574.9" width="11.2" height="11.2" fill="#c9b443"/><circle cx="788.4" cy="580.5" r="3.2" fill="#e6daa0" stroke="#b4a66a" stroke-width="0.7"/><circle cx="71" cy="448.2" r="5.9" fill="#d8c63a"/><circle cx="71" cy="448.2" r="4.1" fill="#151510"/><rect x="68.25" y="445.45" width="5.5" height="5.5" fill="#b87a0e"/><circle cx="71" cy="470" r="5.9" fill="#d8c63a"/><circle cx="71" cy="470" r="4.1" fill="#151510"/><rect x="68.25" y="467.25" width="5.5" height="5.5" fill="#b87a0e"/><circle cx="71" cy="491.5" r="5.9" fill="#d8c63a"/><circle cx="71" cy="491.5" r="4.1" fill="#151510"/><rect x="68.25" y="488.75" width="5.5" height="5.5" fill="#b87a0e"/><circle cx="71" cy="513.2" r="5.9" fill="#d8c63a"/><circle cx="71" cy="513.2" r="4.1" fill="#151510"/><rect x="68.25" y="510.45000000000005" width="5.5" height="5.5" fill="#b87a0e"/><circle cx="93.5" cy="437.5" r="5.9" fill="#d8c63a"/><circle cx="93.5" cy="437.5" r="4.1" fill="#151510"/><rect x="90.75" y="434.75" width="5.5" height="5.5" fill="#b87a0e"/><circle cx="93.5" cy="459.4" r="5.9" fill="#d8c63a"/><circle cx="93.5" cy="459.4" r="4.1" fill="#151510"/><rect x="90.75" y="456.65" width="5.5" height="5.5" fill="#b87a0e"/><circle cx="93.5" cy="480.7" r="5.9" fill="#d8c63a"/><circle cx="93.5" cy="480.7" r="4.1" fill="#151510"/><rect x="90.75" y="477.95" width="5.5" height="5.5" fill="#b87a0e"/><circle cx="93.5" cy="502.3" r="5.9" fill="#d8c63a"/><circle cx="93.5" cy="502.3" r="4.1" fill="#151510"/><rect x="90.75" y="499.55" width="5.5" height="5.5" fill="#b87a0e"/><rect x="87.5" y="518" width="12" height="12" rx="2.5" fill="#d6c43a"/><circle cx="93.5" cy="524" r="4.1" fill="#151510"/><rect x="90.75" y="521.25" width="5.5" height="5.5" fill="#b87a0e"/><circle cx="38.5" cy="155" r="4.6" fill="#7ef07e"/><circle cx="58.5" cy="155" r="6.6" fill="#c9b443"/><circle cx="58.5" cy="155" r="4.8" fill="#ececf4"/><rect x="56.7" y="152" width="3.6" height="1.4" fill="#6e6e80"/><rect x="56.7" y="156.6" width="3.6" height="1.2" fill="#a4a4b4"/><circle cx="38.5" cy="175" r="4.6" fill="#7ef07e"/><circle cx="58.5" cy="175" r="6.6" fill="#c9b443"/><circle cx="58.5" cy="175" r="4.8" fill="#ececf4"/><rect x="56.7" y="172" width="3.6" height="1.4" fill="#6e6e80"/><rect x="56.7" y="176.6" width="3.6" height="1.2" fill="#a4a4b4"/><circle cx="38.5" cy="195" r="4.6" fill="#7ef07e"/><rect x="51.8" y="188.3" width="13.4" height="13.4" fill="#c9b443"/><circle cx="58.5" cy="195" r="4.8" fill="#ececf4"/><rect x="56.7" y="192" width="3.6" height="1.4" fill="#6e6e80"/><rect x="56.7" y="196.6" width="3.6" height="1.2" fill="#a4a4b4"/><circle cx="38.5" cy="256.5" r="4.6" fill="#7ef07e"/><circle cx="58.5" cy="256.5" r="6.6" fill="#c9b443"/><circle cx="58.5" cy="256.5" r="4.8" fill="#ececf4"/><rect x="56.7" y="253.5" width="3.6" height="1.4" fill="#6e6e80"/><rect x="56.7" y="258.1" width="3.6" height="1.2" fill="#a4a4b4"/><circle cx="38.5" cy="276.5" r="4.6" fill="#7ef07e"/><circle cx="58.5" cy="276.5" r="6.6" fill="#c9b443"/><circle cx="58.5" cy="276.5" r="4.8" fill="#ececf4"/><rect x="56.7" y="273.5" width="3.6" height="1.4" fill="#6e6e80"/><rect x="56.7" y="278.1" width="3.6" height="1.2" fill="#a4a4b4"/><circle cx="38.5" cy="296.5" r="4.6" fill="#7ef07e"/><rect x="51.8" y="289.8" width="13.4" height="13.4" fill="#c9b443"/><circle cx="58.5" cy="296.5" r="4.8" fill="#ececf4"/><rect x="56.7" y="293.5" width="3.6" height="1.4" fill="#6e6e80"/><rect x="56.7" y="298.1" width="3.6" height="1.2" fill="#a4a4b4"/><circle cx="465.6" cy="32.25" r="4.6" fill="#7ef07e"/><circle cx="485.6" cy="32.25" r="4.6" fill="#7ef07e"/><circle cx="505.4" cy="32.25" r="4.6" fill="#7ef07e"/><rect x="458.90000000000003" y="45.3" width="13.4" height="13.4" fill="#c9b443"/><circle cx="465.6" cy="52" r="4.8" fill="#ececf4"/><rect x="462.6" y="50.2" width="1.4" height="3.6" fill="#8a8a9c"/><rect x="467.20000000000005" y="50.2" width="1.4" height="3.6" fill="#8a8a9c"/><circle cx="485.6" cy="52" r="6.6" fill="#c9b443"/><circle cx="485.6" cy="52" r="4.8" fill="#ececf4"/><rect x="482.6" y="50.2" width="1.4" height="3.6" fill="#8a8a9c"/><rect x="487.20000000000005" y="50.2" width="1.4" height="3.6" fill="#8a8a9c"/><circle cx="505.4" cy="52" r="6.6" fill="#c9b443"/><circle cx="505.4" cy="52" r="4.8" fill="#ececf4"/><rect x="502.4" y="50.2" width="1.4" height="3.6" fill="#8a8a9c"/><rect x="507.0" y="50.2" width="1.4" height="3.6" fill="#8a8a9c"/><circle cx="629" cy="32.25" r="4.6" fill="#7ef07e"/><circle cx="649" cy="32.25" r="4.6" fill="#7ef07e"/><circle cx="669" cy="32.25" r="4.6" fill="#7ef07e"/><rect x="622.3" y="45.3" width="13.4" height="13.4" fill="#c9b443"/><circle cx="629" cy="52" r="4.8" fill="#ececf4"/><rect x="626" y="50.2" width="1.4" height="3.6" fill="#8a8a9c"/><rect x="630.6" y="50.2" width="1.4" height="3.6" fill="#8a8a9c"/><circle cx="649" cy="52" r="6.6" fill="#c9b443"/><circle cx="649" cy="52" r="4.8" fill="#ececf4"/><rect x="646" y="50.2" width="1.4" height="3.6" fill="#8a8a9c"/><rect x="650.6" y="50.2" width="1.4" height="3.6" fill="#8a8a9c"/><circle cx="669" cy="52" r="6.6" fill="#c9b443"/><circle cx="669" cy="52" r="4.8" fill="#ececf4"/><rect x="666" y="50.2" width="1.4" height="3.6" fill="#8a8a9c"/><rect x="670.6" y="50.2" width="1.4" height="3.6" fill="#8a8a9c"/><circle cx="63" cy="40.3" r="31.2" fill="#c9b443"/><polygon points="91.80,40.30 77.40,65.24 48.60,65.24 34.20,40.30 48.60,15.36 77.40,15.36" fill="#cfcfcf"/><circle cx="63" cy="40.3" r="10.6" fill="none" stroke="#b4b4b4" stroke-width="1"/><circle cx="777.8" cy="40" r="31.2" fill="#c9b443"/><polygon points="806.60,40.00 792.20,64.94 763.40,64.94 749.00,40.00 763.40,15.06 792.20,15.06" fill="#cfcfcf"/><circle cx="777.8" cy="40" r="10.6" fill="none" stroke="#b4b4b4" stroke-width="1"/><circle cx="63" cy="755" r="31.2" fill="#c9b443"/><polygon points="91.80,755.00 77.40,779.94 48.60,779.94 34.20,755.00 48.60,730.06 77.40,730.06" fill="#cfcfcf"/><circle cx="63" cy="755" r="10.6" fill="none" stroke="#b4b4b4" stroke-width="1"/><circle cx="778" cy="755" r="31.2" fill="#c9b443"/><polygon points="806.80,755.00 792.40,779.94 763.60,779.94 749.20,755.00 763.60,730.06 792.40,730.06" fill="#cfcfcf"/><circle cx="778" cy="755" r="10.6" fill="none" stroke="#b4b4b4" stroke-width="1"/><circle cx="82.2" cy="383.2" r="18" fill="#c9b443"/><circle cx="82.2" cy="383.2" r="11.8" fill="#000"/><rect x="80.15" y="369.2" width="4.1" height="28" fill="#d6d6d6"/><rect x="80.15" y="369.2" width="4.1" height="5.6" fill="#8c8c8c"/><rect x="80.15" y="391.9" width="4.1" height="5.3" fill="#8c8c8c"/><circle cx="82.2" cy="578.6" r="18" fill="#c9b443"/><circle cx="82.2" cy="578.6" r="11.8" fill="#000"/><rect x="80.15" y="564.6" width="4.1" height="28" fill="#d6d6d6"/><rect x="80.15" y="564.6" width="4.1" height="5.6" fill="#8c8c8c"/><rect x="80.15" y="587.3000000000001" width="4.1" height="5.3" fill="#8c8c8c"/><rect x="487.29999999999995" y="89.2" width="9.2" height="11.6" fill="#c9b443"/><rect x="499.4" y="89.2" width="9.2" height="11.6" fill="#c9b443"/><rect x="466.3" y="105" width="9.4" height="11.2" fill="#c9b443"/><rect x="478.3" y="105" width="9.4" height="11.2" fill="#c9b443"/><rect x="471.0" y="124.2" width="5" height="7.6" fill="#c9b443"/><rect x="483.1" y="124.2" width="5" height="7.6" fill="#c9b443"/><rect x="493.75" y="124.2" width="5" height="7.6" fill="#c9b443"/><rect x="506.0" y="124.2" width="5" height="7.6" fill="#c9b443"/><rect x="645.4" y="89.2" width="9.2" height="11.6" fill="#c9b443"/><rect x="657.4" y="89.2" width="9.2" height="11.6" fill="#c9b443"/><rect x="658" y="106.5" width="4" height="7" fill="#c9b443"/><rect x="670" y="106.5" width="4" height="7" fill="#c9b443"/><rect x="629.8" y="104.8" width="20.8" height="11.4" fill="#c9b443"/><rect x="632.5" y="104.8" width="15.5" height="11.4" fill="#c8c8c8"/><rect x="635" y="104.8" width="10" height="11.4" fill="#000"/><rect x="634" y="120.6" width="17" height="7.4" fill="#c9b443"/><rect x="636" y="120.6" width="13" height="7.4" fill="#c8c8c8"/><rect x="638" y="120.6" width="9" height="7.4" fill="#000"/><rect x="405.3" y="433.4" width="4.7" height="15.6" fill="#c9b443"/><rect x="405.3" y="437.5" width="4.7" height="7.1" fill="#f0f0f0"/><rect x="405.3" y="438.4" width="4.7" height="5.4" fill="#000"/><path d="M403.5,436.5 L403.5,431.5 L412.5,431.5 L412.5,436.5 M403.5,445.6 L403.5,450.5 L412.5,450.5 L412.5,445.6" fill="none" stroke="#fff" stroke-width="1"/><text x="486.2" y="84" font-size="13" fill="#fff" font-family="Liberation Mono, monospace">C12</text><text x="464.8" y="99.2" font-size="13" fill="#fff" font-family="Liberation Mono, monospace" textLength="20.5" lengthAdjust="spacingAndGlyphs">C11</text><text x="452.2" y="142.5" font-size="13" fill="#fff" font-family="Liberation Mono, monospace">C15</text><text x="504.8" y="142.5" font-size="13" fill="#fff" font-family="Liberation Mono, monospace">C16</text><text x="644.2" y="84" font-size="13" fill="#fff" font-family="Liberation Mono, monospace">C10</text><text x="608.6" y="113.5" font-size="13" fill="#fff" font-family="Liberation Mono, monospace">C9</text><text x="606.7" y="133.5" font-size="13" fill="#fff" font-family="Liberation Mono, monospace">C13</text><text x="679.2" y="115" font-size="13" fill="#fff" font-family="Liberation Mono, monospace">C14</text><text x="413.09999999999997" y="459.2" font-size="13" fill="#fff" font-family="Liberation Mono, monospace">C28</text><rect x="137.2" y="565.6" width="130" height="41" rx="5" fill="#f7f7f7"/><text x="202.5" y="590.5" font-size="12" fill="#ffffff" text-anchor="middle" font-family="Liberation Sans, sans-serif">LBL1</text><rect x="121" y="0" width="371.5" height="5" fill="#fafafa"/><polygon points="173.5,5 177.5,5 177.5,1" fill="#222"/><polygon points="202,5 206,5 206,1" fill="#222"/><polygon points="230,5 234,5 234,1" fill="#222"/><polygon points="258.5,5 262.5,5 262.5,1" fill="#222"/><polygon points="286.5,5 290.5,5 290.5,1" fill="#222"/><polygon points="314.75,5 318.75,5 318.75,1" fill="#222"/><polygon points="342.5,5 346.5,5 346.5,1" fill="#222"/><polygon points="370.5,5 374.5,5 374.5,1" fill="#222"/><polygon points="398.5,5 402.5,5 402.5,1" fill="#222"/><polygon points="426,5 430,5 430,1" fill="#222"/><polygon points="454,5 458,5 458,1" fill="#222"/><polygon points="482,5 486,5 486,1" fill="#222"/><rect x="818" y="731" width="2" height="63" fill="#10e010"/><rect x="772" y="795" width="46" height="2" fill="#f01010"/><polygon points="770,795 783,795 783,800" fill="#f01010"/><path d="M755,800 L760,793 L765,800" fill="none" stroke="#f01010" stroke-width="1.5"/><rect x="815" y="796" width="5" height="4" fill="#1010f0"/></svg></body></html>
